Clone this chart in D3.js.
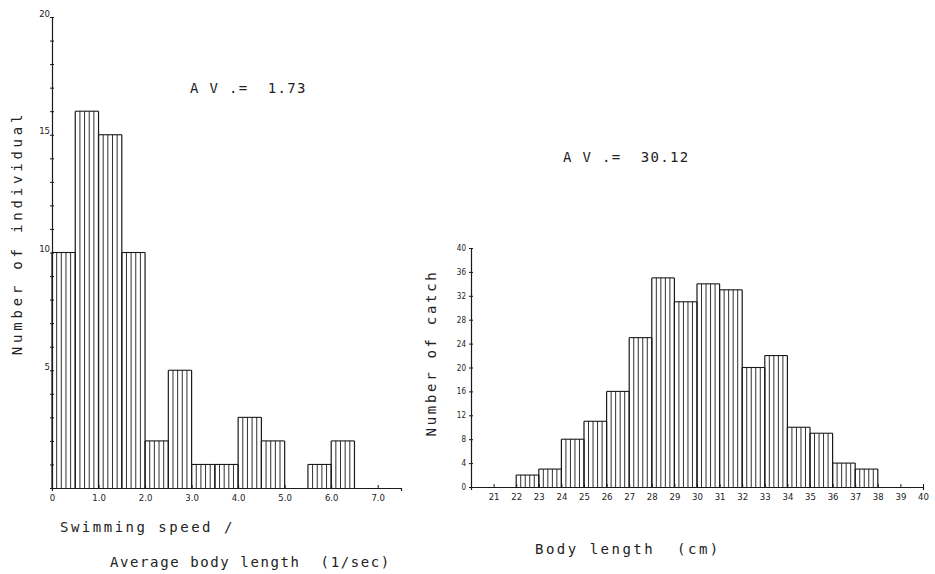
<!DOCTYPE html>
<html>
<head>
<meta charset="utf-8">
<script src="https://cdn.jsdelivr.net/npm/d3@7"></script>
<style>
  body { margin: 0; background: #fff; }
  svg text { font-family: "DejaVu Sans Mono", "Liberation Mono", monospace; fill: #222; white-space: pre; }
  .tick text { font-family: "DejaVu Sans Condensed", "DejaVu Sans", sans-serif; font-size: 9.5px; fill: #222; }
</style>
</head>
<body>
<div id="chart"></div>
<script>
// left panel: swimming speed histogram (bin start, 0.5 wide)
const speedBins = [0, 0.5, 1.0, 1.5, 2.0, 2.5, 3.0, 3.5, 4.0, 4.5, 5.0, 5.5, 6.0];
const speedCounts = [10, 16, 15, 10, 2, 5, 1, 1, 3, 2, 0, 1, 2];
const speedXTicks = [0, 1, 2, 3, 4, 5, 6, 7];
const speedXLabels = ["0", "1.0", "2.0", "3.0", "4.0", "5.0", "6.0", "7.0"];
const speedYLabels = [5, 10, 15, 20];

// right panel: body length histogram (bin start, 1 cm wide)
const lengthBins = [21, 22, 23, 24, 25, 26, 27, 28, 29, 30, 31, 32, 33, 34, 35, 36, 37];
const lengthCounts = [0, 2, 3, 8, 11, 16, 25, 35, 31, 34, 33, 20, 22, 10, 9, 4, 3];
const lengthXTicks = d3.range(21, 41);
const lengthYTicks = [0, 4, 8, 12, 16, 20, 24, 28, 32, 36, 40];

const svg = d3.select("#chart").append("svg")
  .attr("width", 935)
  .attr("height", 574);

const ink = "#1a1a1a";

// hatched bar: outline + vertical strokes
function drawBars(g, bins, counts, width, x, y) {
  bins.forEach((b, i) => {
    const c = counts[i];
    if (c === 0) return;
    const x0 = x(b), x1 = x(b + width), yt = y(c), yb = y(0);
    g.append("line")
      .attr("x1", x0).attr("x2", x1).attr("y1", yt).attr("y2", yt)
      .attr("stroke", ink).attr("stroke-width", 1.1);
    const n = 5;
    for (let k = 0; k <= n; k++) {
      const xx = x0 + (x1 - x0) * k / n;
      g.append("line")
        .attr("x1", xx).attr("x2", xx).attr("y1", yt).attr("y2", yb)
        .attr("stroke", ink)
        .attr("stroke-width", (k === 0 || k === n) ? 1.2 : 0.9);
    }
  });
}

function styleAxis(g) {
  g.select(".domain").attr("stroke", ink).attr("stroke-width", 1.2);
  g.selectAll(".tick line").attr("stroke", ink);
}

// ---- left chart ----
const xS = d3.scaleLinear().domain([0, 7.5]).range([52, 401]);
const yS = d3.scaleLinear().domain([0, 20]).range([488, 17]);

const left = svg.append("g");
drawBars(left, speedBins, speedCounts, 0.5, xS, yS);

left.append("g")
  .attr("transform", `translate(${xS(0)},0)`)
  .call(d3.axisLeft(yS).tickValues(d3.range(0, 21)).tickSize(2)
    .tickFormat(d => speedYLabels.includes(d) ? d : ""))
  .call(g => g.selectAll(".tick line").attr("x2", 2).attr("x1", -2))
  .call(g => g.selectAll(".tick text").attr("x", -2).attr("dy", "-0.1em"))
  .call(styleAxis);

left.append("g")
  .attr("transform", `translate(0,${yS(0)})`)
  .call(d3.axisBottom(xS).tickValues(speedXTicks).tickSize(3)
    .tickFormat((d, i) => speedXLabels[i]))
  .call(g => g.selectAll(".tick line").attr("y1", -3).attr("y2", 0))
  .call(g => g.selectAll(".tick text").attr("y", 6))
  .call(styleAxis);

left.append("text")
  .attr("x", 190).attr("y", 93)
  .style("font-size", "14px").style("letter-spacing", "1.3px")
  .text("A V .=  1.73");

left.append("text")
  .attr("transform", "translate(22,233) rotate(-90)")
  .attr("text-anchor", "middle")
  .style("font-size", "14px").style("letter-spacing", "3.8px")
  .text("Number of individual");

left.append("text")
  .attr("x", 60).attr("y", 532)
  .style("font-size", "14px").style("letter-spacing", "2.5px")
  .text("Swimming speed /");

left.append("text")
  .attr("x", 110).attr("y", 567)
  .style("font-size", "14px").style("letter-spacing", "1.6px")
  .text("Average body length  (1/sec)");

// ---- right chart ----
const xL = d3.scaleLinear().domain([20, 40]).range([471, 923]);
const yL = d3.scaleLinear().domain([0, 40]).range([487, 248]);

const right = svg.append("g");
drawBars(right, lengthBins, lengthCounts, 1, xL, yL);

right.append("g")
  .attr("transform", `translate(${xL(20)},0)`)
  .call(d3.axisLeft(yL).tickValues(lengthYTicks).tickSize(2))
  .call(g => g.selectAll(".tick line").attr("x2", 2).attr("x1", -2))
  .call(g => g.selectAll(".tick text").attr("x", -5).style("font-size", "8px"))
  .call(styleAxis);

right.append("g")
  .attr("transform", `translate(0,${yL(0)})`)
  .call(d3.axisBottom(xL).tickValues(lengthXTicks).tickSize(3))
  .call(g => g.selectAll(".tick line").attr("y1", -3).attr("y2", 0))
  .call(g => g.selectAll(".tick text").attr("y", 6))
  .call(styleAxis);

right.append("text")
  .attr("x", 563).attr("y", 162)
  .style("font-size", "14px").style("letter-spacing", "1.3px")
  .text("A V .=  30.12");

right.append("text")
  .attr("transform", "translate(436,353) rotate(-90)")
  .attr("text-anchor", "middle")
  .style("font-size", "14px").style("letter-spacing", "2.7px")
  .text("Number of catch");

right.append("text")
  .attr("x", 535).attr("y", 554)
  .style("font-size", "14px").style("letter-spacing", "2.5px")
  .text("Body length  (cm)");
</script>
</body>
</html>
